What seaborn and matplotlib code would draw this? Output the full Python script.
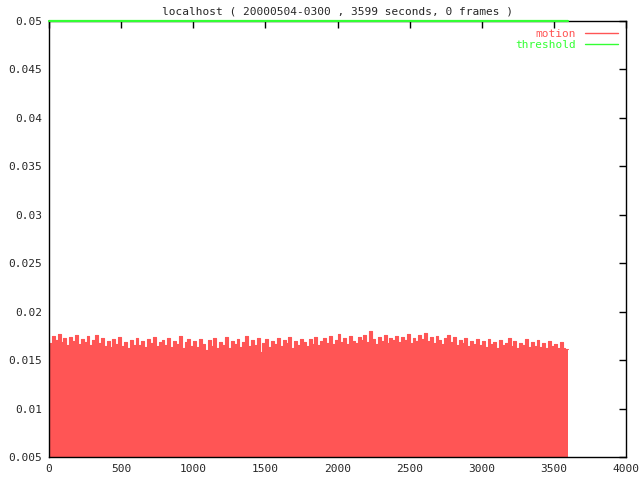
import numpy as np
import matplotlib
matplotlib.use("Agg")
import matplotlib.pyplot as plt
import seaborn as sns
from matplotlib.lines import Line2D
from matplotlib.ticker import FormatStrFormatter

# motion level, one value per 20 s sample
sample_step = 20
motion = [
    0.0168, 0.0175, 0.0171, 0.0177, 0.0169, 0.0173, 0.0166, 0.0174, 0.0170, 0.0176,
    0.0167, 0.0172, 0.0169, 0.0175, 0.0166, 0.0171, 0.0176, 0.0168, 0.0173, 0.0165,
    0.0170, 0.0164, 0.0172, 0.0167, 0.0174, 0.0165, 0.0169, 0.0163, 0.0171, 0.0166,
    0.0173, 0.0166, 0.0170, 0.0164, 0.0172, 0.0168, 0.0174, 0.0165, 0.0169, 0.0171,
    0.0166, 0.0173, 0.0164, 0.0170, 0.0167, 0.0175, 0.0163, 0.0169, 0.0172, 0.0165,
    0.0170, 0.0164, 0.0172, 0.0167, 0.0160, 0.0171, 0.0165, 0.0173, 0.0163, 0.0169,
    0.0166, 0.0174, 0.0162, 0.0170, 0.0167, 0.0172, 0.0164, 0.0169, 0.0175, 0.0165,
    0.0171, 0.0166, 0.0173, 0.0158, 0.0168, 0.0172, 0.0164, 0.0170, 0.0167, 0.0173,
    0.0165, 0.0171, 0.0168, 0.0174, 0.0163, 0.0170, 0.0166, 0.0172, 0.0169, 0.0165,
    0.0172, 0.0167, 0.0174, 0.0166, 0.0170, 0.0173, 0.0168, 0.0175, 0.0167, 0.0171,
    0.0177, 0.0169, 0.0173, 0.0167, 0.0175, 0.0170, 0.0168, 0.0174, 0.0171, 0.0176,
    0.0169, 0.0180, 0.0172, 0.0167, 0.0174, 0.0170, 0.0176, 0.0168, 0.0173, 0.0171,
    0.0175, 0.0169, 0.0174, 0.0171, 0.0177, 0.0168, 0.0173, 0.0170, 0.0176, 0.0172,
    0.0178, 0.0170, 0.0174, 0.0168, 0.0175, 0.0171, 0.0167, 0.0173, 0.0176, 0.0169,
    0.0174, 0.0166, 0.0171, 0.0168, 0.0173, 0.0165, 0.0170, 0.0167, 0.0172, 0.0166,
    0.0170, 0.0164, 0.0172, 0.0167, 0.0169, 0.0163, 0.0171, 0.0166, 0.0168, 0.0173,
    0.0165, 0.0170, 0.0163, 0.0168, 0.0166, 0.0172, 0.0164, 0.0169, 0.0165, 0.0171,
    0.0164, 0.0168, 0.0163, 0.0170, 0.0165, 0.0167, 0.0163, 0.0169, 0.0162, 0.0161,
]
threshold_x = [0, 3599]
threshold_y = [0.05, 0.05]
x_ticks = [0, 500, 1000, 1500, 2000, 2500, 3000, 3500, 4000]
y_ticks = [0.005, 0.01, 0.015, 0.02, 0.025, 0.03, 0.035, 0.04, 0.045, 0.05]

red = "#ff5555"
green = "#33ff33"

sns.set_style("white")
plt.rcParams["font.family"] = ["DejaVu Sans Mono", "DejaVu Sans"]
plt.rcParams["font.size"] = 8

fig = plt.figure(figsize=(6.4, 4.8), dpi=100)
ax = fig.add_axes([49 / 640, 23 / 480, 577 / 640, 436 / 480])
ax.set_axisbelow(True)

t = np.arange(len(motion) + 1) * sample_step
m = np.append(motion, motion[-1])
ax.fill_between(t, m, 0.005, step="post", color=red, linewidth=0)
sns.lineplot(x=t, y=m, drawstyle="steps-post", color=red, linewidth=0.8, ax=ax)
sns.lineplot(x=threshold_x, y=threshold_y, color=green, linewidth=1.6, ax=ax, clip_on=False, zorder=5)

ax.set_xlim(0, 4000)
ax.set_ylim(0.005, 0.05)
ax.set_xticks(x_ticks)
ax.set_yticks(y_ticks)
ax.yaxis.set_major_formatter(FormatStrFormatter("%g"))
ax.tick_params(direction="in", length=5, width=1, top=True, right=True, color="black", labelsize=8, pad=5)
for s in ax.spines.values():
    s.set_color("black")
    s.set_linewidth(1)

ax.set_title("localhost ( 20000504-0300 , 3599 seconds, 0 frames )", fontsize=8, pad=5)

handles = [Line2D([], [], color=red, lw=1), Line2D([], [], color=green, lw=1)]
leg = ax.legend(handles, ["motion", "threshold"], loc="upper right", markerfirst=False,
                frameon=False, labelcolor=[red, green], fontsize=8, handlelength=3,
                borderaxespad=0.3, labelspacing=0.1)

fig.savefig("out.png", dpi=100)
